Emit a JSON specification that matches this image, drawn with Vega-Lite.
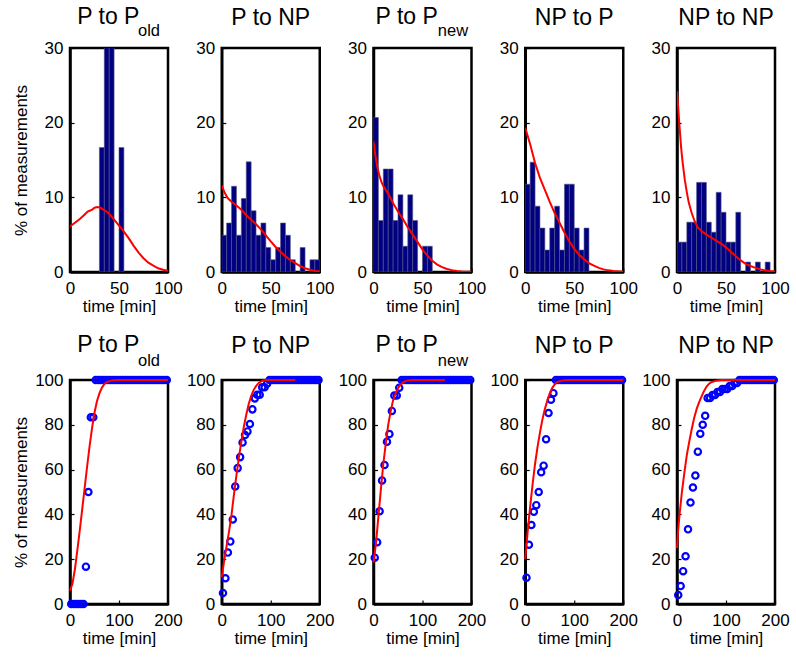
{
"$schema": "https://vega.github.io/schema/vega-lite/v6.json",
"background": "white",
"padding": {"left": 10, "top": 4, "right": 10, "bottom": 5},
"config": {
  "font": "Liberation Sans",
  "view": {"stroke": "black", "strokeWidth": 2.5},
  "axis": {"domainColor": "black", "domainWidth": 2.5, "tickColor": "black", "tickWidth": 1.2, "tickSize": -4, "labelFontSize": 17, "labelColor": "black", "labelFont": "Liberation Sans", "titleFont": "Liberation Sans", "titleFontSize": 17, "titleFontWeight": "normal", "titleColor": "black", "grid": false, "labelOverlap": false, "labelFlush": false},
  "axisX": {"labelPadding": 12},
  "axisY": {"labelPadding": 11},
  "text": {"font": "Liberation Sans", "fontSize": 16.5, "color": "black"},
  "title": {"fontSize": 23, "font": "Liberation Sans", "fontWeight": "normal", "color": "black", "anchor": "middle", "offset": 9}
},
"datasets": {
"subs": [{"p":1,"sub":"old"},{"p":3,"sub":"new"}],
"bars": [
{"p":1,"x0":30,"x1":35,"y":16.67},{"p":1,"x0":35,"x1":40,"y":33.33},{"p":1,"x0":40,"x1":45,"y":33.33},{"p":1,"x0":50,"x1":55,"y":16.67},
{"p":2,"x0":0,"x1":5,"y":4.92},{"p":2,"x0":5,"x1":10,"y":6.56},{"p":2,"x0":10,"x1":15,"y":11.48},{"p":2,"x0":15,"x1":20,"y":4.92},{"p":2,"x0":20,"x1":25,"y":9.84},{"p":2,"x0":25,"x1":30,"y":14.75},{"p":2,"x0":30,"x1":35,"y":8.2},{"p":2,"x0":35,"x1":40,"y":4.92},{"p":2,"x0":40,"x1":45,"y":6.56},{"p":2,"x0":45,"x1":50,"y":3.28},{"p":2,"x0":50,"x1":55,"y":1.64},{"p":2,"x0":55,"x1":60,"y":3.28},{"p":2,"x0":60,"x1":65,"y":6.56},{"p":2,"x0":65,"x1":70,"y":4.92},{"p":2,"x0":70,"x1":75,"y":1.64},{"p":2,"x0":80,"x1":85,"y":3.28},{"p":2,"x0":90,"x1":95,"y":1.64},{"p":2,"x0":95,"x1":100,"y":1.64},
{"p":3,"x0":0,"x1":5,"y":20.69},{"p":3,"x0":5,"x1":10,"y":6.9},{"p":3,"x0":10,"x1":15,"y":13.79},{"p":3,"x0":15,"x1":20,"y":13.79},{"p":3,"x0":20,"x1":25,"y":6.9},{"p":3,"x0":25,"x1":30,"y":10.34},{"p":3,"x0":30,"x1":35,"y":3.45},{"p":3,"x0":35,"x1":40,"y":10.34},{"p":3,"x0":40,"x1":45,"y":6.9},{"p":3,"x0":50,"x1":55,"y":3.45},{"p":3,"x0":55,"x1":60,"y":3.45},
{"p":4,"x0":0,"x1":5,"y":11.76},{"p":4,"x0":5,"x1":10,"y":14.71},{"p":4,"x0":10,"x1":15,"y":8.82},{"p":4,"x0":15,"x1":20,"y":5.88},{"p":4,"x0":20,"x1":25,"y":2.94},{"p":4,"x0":25,"x1":30,"y":5.88},{"p":4,"x0":30,"x1":35,"y":8.82},{"p":4,"x0":35,"x1":40,"y":2.94},{"p":4,"x0":40,"x1":45,"y":11.76},{"p":4,"x0":45,"x1":50,"y":11.76},{"p":4,"x0":50,"x1":55,"y":5.88},{"p":4,"x0":55,"x1":60,"y":2.94},{"p":4,"x0":60,"x1":65,"y":5.88},
{"p":5,"x0":0,"x1":5,"y":4.0},{"p":5,"x0":5,"x1":10,"y":4.0},{"p":5,"x0":10,"x1":15,"y":6.67},{"p":5,"x0":15,"x1":20,"y":6.67},{"p":5,"x0":20,"x1":25,"y":12.0},{"p":5,"x0":25,"x1":30,"y":12.0},{"p":5,"x0":30,"x1":35,"y":6.67},{"p":5,"x0":35,"x1":40,"y":5.33},{"p":5,"x0":40,"x1":45,"y":10.67},{"p":5,"x0":45,"x1":50,"y":8.0},{"p":5,"x0":50,"x1":55,"y":4.0},{"p":5,"x0":55,"x1":60,"y":4.0},{"p":5,"x0":60,"x1":65,"y":8.0},{"p":5,"x0":70,"x1":75,"y":1.33},{"p":5,"x0":80,"x1":85,"y":1.33},{"p":5,"x0":90,"x1":95,"y":1.33}
],
"pdf": [
{"p":1,"x":0,"y":6.1},{"p":1,"x":5,"y":6.6},{"p":1,"x":10,"y":7.1},{"p":1,"x":15,"y":7.7},{"p":1,"x":18,"y":8.1},{"p":1,"x":20,"y":8.2},{"p":1,"x":23,"y":8.4},{"p":1,"x":25,"y":8.6},{"p":1,"x":28,"y":8.7},{"p":1,"x":31,"y":8.6},{"p":1,"x":35,"y":8.3},{"p":1,"x":40,"y":7.8},{"p":1,"x":45,"y":7.0},{"p":1,"x":50,"y":6.2},{"p":1,"x":55,"y":5.4},{"p":1,"x":60,"y":4.5},{"p":1,"x":65,"y":3.5},{"p":1,"x":70,"y":2.6},{"p":1,"x":75,"y":1.85},{"p":1,"x":80,"y":1.25},{"p":1,"x":85,"y":0.85},{"p":1,"x":90,"y":0.5},{"p":1,"x":95,"y":0.3},{"p":1,"x":100,"y":0.15},
{"p":2,"x":0,"y":11.6},{"p":2,"x":3,"y":10.6},{"p":2,"x":6,"y":9.9},{"p":2,"x":10,"y":9.4},{"p":2,"x":15,"y":8.9},{"p":2,"x":20,"y":8.35},{"p":2,"x":25,"y":7.6},{"p":2,"x":30,"y":7.0},{"p":2,"x":35,"y":6.4},{"p":2,"x":40,"y":5.7},{"p":2,"x":45,"y":4.9},{"p":2,"x":50,"y":4.1},{"p":2,"x":55,"y":3.35},{"p":2,"x":60,"y":2.7},{"p":2,"x":65,"y":2.1},{"p":2,"x":70,"y":1.6},{"p":2,"x":75,"y":1.2},{"p":2,"x":80,"y":0.8},{"p":2,"x":85,"y":0.5},{"p":2,"x":90,"y":0.3},{"p":2,"x":95,"y":0.15},{"p":2,"x":100,"y":0.1},
{"p":3,"x":0,"y":17.5},{"p":3,"x":2,"y":15.5},{"p":3,"x":4,"y":14.0},{"p":3,"x":6,"y":12.9},{"p":3,"x":8,"y":12.1},{"p":3,"x":10,"y":11.5},{"p":3,"x":15,"y":10.5},{"p":3,"x":20,"y":9.2},{"p":3,"x":25,"y":8.1},{"p":3,"x":30,"y":7.1},{"p":3,"x":35,"y":6.0},{"p":3,"x":40,"y":5.0},{"p":3,"x":45,"y":4.0},{"p":3,"x":50,"y":3.0},{"p":3,"x":55,"y":2.2},{"p":3,"x":60,"y":1.5},{"p":3,"x":65,"y":1.0},{"p":3,"x":70,"y":0.65},{"p":3,"x":75,"y":0.4},{"p":3,"x":80,"y":0.25},{"p":3,"x":85,"y":0.15},{"p":3,"x":90,"y":0.08},{"p":3,"x":100,"y":0.02},
{"p":4,"x":0,"y":19.3},{"p":4,"x":5,"y":17.1},{"p":4,"x":10,"y":14.6},{"p":4,"x":15,"y":12.6},{"p":4,"x":20,"y":11.0},{"p":4,"x":25,"y":9.4},{"p":4,"x":30,"y":7.9},{"p":4,"x":35,"y":6.6},{"p":4,"x":40,"y":5.3},{"p":4,"x":45,"y":4.1},{"p":4,"x":50,"y":3.1},{"p":4,"x":55,"y":2.3},{"p":4,"x":60,"y":1.7},{"p":4,"x":65,"y":1.2},{"p":4,"x":70,"y":0.85},{"p":4,"x":75,"y":0.55},{"p":4,"x":80,"y":0.35},{"p":4,"x":85,"y":0.22},{"p":4,"x":90,"y":0.15},{"p":4,"x":100,"y":0.05},
{"p":5,"x":0,"y":24.2},{"p":5,"x":1,"y":22.5},{"p":5,"x":2,"y":20.5},{"p":5,"x":3,"y":18.8},{"p":5,"x":4,"y":17.0},{"p":5,"x":5,"y":15.6},{"p":5,"x":6,"y":14.4},{"p":5,"x":8,"y":12.3},{"p":5,"x":10,"y":10.7},{"p":5,"x":12,"y":9.3},{"p":5,"x":15,"y":7.9},{"p":5,"x":18,"y":6.8},{"p":5,"x":21,"y":6.0},{"p":5,"x":25,"y":5.5},{"p":5,"x":30,"y":5.0},{"p":5,"x":35,"y":4.6},{"p":5,"x":40,"y":4.2},{"p":5,"x":45,"y":3.8},{"p":5,"x":50,"y":3.3},{"p":5,"x":55,"y":2.7},{"p":5,"x":60,"y":2.1},{"p":5,"x":65,"y":1.55},{"p":5,"x":70,"y":1.1},{"p":5,"x":75,"y":0.8},{"p":5,"x":80,"y":0.55},{"p":5,"x":85,"y":0.35},{"p":5,"x":90,"y":0.22},{"p":5,"x":95,"y":0.13},{"p":5,"x":100,"y":0.08}
],
"cdf": [
{"p":1,"x":0,"y":6},{"p":1,"x":5,"y":9},{"p":1,"x":10,"y":15.5},{"p":1,"x":15,"y":24},{"p":1,"x":20,"y":33},{"p":1,"x":25,"y":42.5},{"p":1,"x":30,"y":52},{"p":1,"x":35,"y":61.5},{"p":1,"x":40,"y":70.5},{"p":1,"x":45,"y":78.5},{"p":1,"x":50,"y":85.5},{"p":1,"x":55,"y":90.5},{"p":1,"x":60,"y":94},{"p":1,"x":65,"y":96.5},{"p":1,"x":70,"y":98.2},{"p":1,"x":75,"y":99},{"p":1,"x":80,"y":99.5},{"p":1,"x":90,"y":99.9},{"p":1,"x":100,"y":100},{"p":1,"x":150,"y":100},{"p":1,"x":200,"y":100},
{"p":2,"x":0,"y":12},{"p":2,"x":5,"y":19.5},{"p":2,"x":10,"y":26},{"p":2,"x":15,"y":32.5},{"p":2,"x":20,"y":40},{"p":2,"x":25,"y":49},{"p":2,"x":30,"y":57.5},{"p":2,"x":35,"y":65.5},{"p":2,"x":40,"y":72.5},{"p":2,"x":45,"y":79},{"p":2,"x":50,"y":84.5},{"p":2,"x":55,"y":89.3},{"p":2,"x":60,"y":92.8},{"p":2,"x":65,"y":95.5},{"p":2,"x":70,"y":97.3},{"p":2,"x":75,"y":98.6},{"p":2,"x":80,"y":99.4},{"p":2,"x":85,"y":99.8},{"p":2,"x":90,"y":100},{"p":2,"x":150,"y":100},
{"p":3,"x":0,"y":18.6},{"p":3,"x":5,"y":27},{"p":3,"x":10,"y":39},{"p":3,"x":15,"y":51},{"p":3,"x":20,"y":62.5},{"p":3,"x":25,"y":71.5},{"p":3,"x":30,"y":80},{"p":3,"x":35,"y":86},{"p":3,"x":40,"y":91},{"p":3,"x":45,"y":94},{"p":3,"x":50,"y":96.3},{"p":3,"x":55,"y":97.9},{"p":3,"x":60,"y":98.9},{"p":3,"x":65,"y":99.5},{"p":3,"x":70,"y":99.8},{"p":3,"x":80,"y":100},{"p":3,"x":146,"y":100},
{"p":4,"x":0,"y":20},{"p":4,"x":5,"y":32.5},{"p":4,"x":10,"y":43.5},{"p":4,"x":15,"y":53.5},{"p":4,"x":20,"y":62.5},{"p":4,"x":25,"y":70},{"p":4,"x":30,"y":76.5},{"p":4,"x":35,"y":82.3},{"p":4,"x":40,"y":87},{"p":4,"x":45,"y":90.8},{"p":4,"x":50,"y":94},{"p":4,"x":55,"y":96.4},{"p":4,"x":60,"y":98},{"p":4,"x":65,"y":99},{"p":4,"x":70,"y":99.5},{"p":4,"x":80,"y":99.9},{"p":4,"x":90,"y":100},{"p":4,"x":200,"y":100},
{"p":5,"x":0,"y":25},{"p":5,"x":2,"y":32},{"p":5,"x":5,"y":39.5},{"p":5,"x":10,"y":50},{"p":5,"x":15,"y":58.5},{"p":5,"x":20,"y":66.5},{"p":5,"x":25,"y":72.5},{"p":5,"x":30,"y":78},{"p":5,"x":35,"y":83},{"p":5,"x":40,"y":87},{"p":5,"x":45,"y":90},{"p":5,"x":50,"y":92.6},{"p":5,"x":55,"y":95},{"p":5,"x":60,"y":97},{"p":5,"x":65,"y":98.2},{"p":5,"x":70,"y":99},{"p":5,"x":80,"y":99.7},{"p":5,"x":90,"y":100},{"p":5,"x":200,"y":100}
],
"pts": [
{"p":1,"x":2.5,"y":0},{"p":1,"x":7.5,"y":0},{"p":1,"x":12.5,"y":0},{"p":1,"x":17.5,"y":0},{"p":1,"x":22.5,"y":0},{"p":1,"x":27.5,"y":0},{"p":1,"x":32.5,"y":16.67},{"p":1,"x":37.5,"y":50},{"p":1,"x":42.5,"y":83.33},{"p":1,"x":47.5,"y":83.33},{"p":1,"x":52.5,"y":100},{"p":1,"x":57.5,"y":100},{"p":1,"x":62.5,"y":100},{"p":1,"x":67.5,"y":100},{"p":1,"x":72.5,"y":100},{"p":1,"x":77.5,"y":100},{"p":1,"x":82.5,"y":100},{"p":1,"x":87.5,"y":100},{"p":1,"x":92.5,"y":100},{"p":1,"x":97.5,"y":100},{"p":1,"x":102.5,"y":100},{"p":1,"x":107.5,"y":100},{"p":1,"x":112.5,"y":100},{"p":1,"x":117.5,"y":100},{"p":1,"x":122.5,"y":100},{"p":1,"x":127.5,"y":100},{"p":1,"x":132.5,"y":100},{"p":1,"x":137.5,"y":100},{"p":1,"x":142.5,"y":100},{"p":1,"x":147.5,"y":100},{"p":1,"x":152.5,"y":100},{"p":1,"x":157.5,"y":100},{"p":1,"x":162.5,"y":100},{"p":1,"x":167.5,"y":100},{"p":1,"x":172.5,"y":100},{"p":1,"x":177.5,"y":100},{"p":1,"x":182.5,"y":100},{"p":1,"x":187.5,"y":100},{"p":1,"x":192.5,"y":100},{"p":1,"x":197.5,"y":100},
{"p":2,"x":2.5,"y":4.92},{"p":2,"x":7.5,"y":11.48},{"p":2,"x":12.5,"y":22.95},{"p":2,"x":17.5,"y":27.87},{"p":2,"x":22.5,"y":37.7},{"p":2,"x":27.5,"y":52.46},{"p":2,"x":32.5,"y":60.66},{"p":2,"x":37.5,"y":65.57},{"p":2,"x":42.5,"y":72.13},{"p":2,"x":47.5,"y":75.41},{"p":2,"x":52.5,"y":77.05},{"p":2,"x":57.5,"y":80.33},{"p":2,"x":62.5,"y":86.89},{"p":2,"x":67.5,"y":91.8},{"p":2,"x":72.5,"y":93.44},{"p":2,"x":77.5,"y":93.44},{"p":2,"x":82.5,"y":96.72},{"p":2,"x":87.5,"y":96.72},{"p":2,"x":92.5,"y":98.36},{"p":2,"x":97.5,"y":100},{"p":2,"x":102.5,"y":100},{"p":2,"x":107.5,"y":100},{"p":2,"x":112.5,"y":100},{"p":2,"x":117.5,"y":100},{"p":2,"x":122.5,"y":100},{"p":2,"x":127.5,"y":100},{"p":2,"x":132.5,"y":100},{"p":2,"x":137.5,"y":100},{"p":2,"x":142.5,"y":100},{"p":2,"x":147.5,"y":100},{"p":2,"x":152.5,"y":100},{"p":2,"x":157.5,"y":100},{"p":2,"x":162.5,"y":100},{"p":2,"x":167.5,"y":100},{"p":2,"x":172.5,"y":100},{"p":2,"x":177.5,"y":100},{"p":2,"x":182.5,"y":100},{"p":2,"x":187.5,"y":100},{"p":2,"x":192.5,"y":100},{"p":2,"x":197.5,"y":100},
{"p":3,"x":2.5,"y":20.69},{"p":3,"x":7.5,"y":27.59},{"p":3,"x":12.5,"y":41.38},{"p":3,"x":17.5,"y":55.17},{"p":3,"x":22.5,"y":62.07},{"p":3,"x":27.5,"y":72.41},{"p":3,"x":32.5,"y":75.86},{"p":3,"x":37.5,"y":86.21},{"p":3,"x":42.5,"y":93.1},{"p":3,"x":47.5,"y":93.1},{"p":3,"x":52.5,"y":96.55},{"p":3,"x":57.5,"y":100},{"p":3,"x":62.5,"y":100},{"p":3,"x":67.5,"y":100},{"p":3,"x":72.5,"y":100},{"p":3,"x":77.5,"y":100},{"p":3,"x":82.5,"y":100},{"p":3,"x":87.5,"y":100},{"p":3,"x":92.5,"y":100},{"p":3,"x":97.5,"y":100},{"p":3,"x":102.5,"y":100},{"p":3,"x":107.5,"y":100},{"p":3,"x":112.5,"y":100},{"p":3,"x":117.5,"y":100},{"p":3,"x":122.5,"y":100},{"p":3,"x":127.5,"y":100},{"p":3,"x":132.5,"y":100},{"p":3,"x":137.5,"y":100},{"p":3,"x":142.5,"y":100},{"p":3,"x":147.5,"y":100},{"p":3,"x":152.5,"y":100},{"p":3,"x":157.5,"y":100},{"p":3,"x":162.5,"y":100},{"p":3,"x":167.5,"y":100},{"p":3,"x":172.5,"y":100},{"p":3,"x":177.5,"y":100},{"p":3,"x":182.5,"y":100},{"p":3,"x":187.5,"y":100},{"p":3,"x":192.5,"y":100},{"p":3,"x":197.5,"y":100},
{"p":4,"x":2.5,"y":11.76},{"p":4,"x":7.5,"y":26.47},{"p":4,"x":12.5,"y":35.29},{"p":4,"x":17.5,"y":41.18},{"p":4,"x":22.5,"y":44.12},{"p":4,"x":27.5,"y":50.0},{"p":4,"x":32.5,"y":58.82},{"p":4,"x":37.5,"y":61.76},{"p":4,"x":42.5,"y":73.53},{"p":4,"x":47.5,"y":85.29},{"p":4,"x":52.5,"y":91.18},{"p":4,"x":57.5,"y":94.12},{"p":4,"x":62.5,"y":100},{"p":4,"x":67.5,"y":100},{"p":4,"x":72.5,"y":100},{"p":4,"x":77.5,"y":100},{"p":4,"x":82.5,"y":100},{"p":4,"x":87.5,"y":100},{"p":4,"x":92.5,"y":100},{"p":4,"x":97.5,"y":100},{"p":4,"x":102.5,"y":100},{"p":4,"x":107.5,"y":100},{"p":4,"x":112.5,"y":100},{"p":4,"x":117.5,"y":100},{"p":4,"x":122.5,"y":100},{"p":4,"x":127.5,"y":100},{"p":4,"x":132.5,"y":100},{"p":4,"x":137.5,"y":100},{"p":4,"x":142.5,"y":100},{"p":4,"x":147.5,"y":100},{"p":4,"x":152.5,"y":100},{"p":4,"x":157.5,"y":100},{"p":4,"x":162.5,"y":100},{"p":4,"x":167.5,"y":100},{"p":4,"x":172.5,"y":100},{"p":4,"x":177.5,"y":100},{"p":4,"x":182.5,"y":100},{"p":4,"x":187.5,"y":100},{"p":4,"x":192.5,"y":100},{"p":4,"x":197.5,"y":100},
{"p":5,"x":2.5,"y":4.0},{"p":5,"x":7.5,"y":8.0},{"p":5,"x":12.5,"y":14.67},{"p":5,"x":17.5,"y":21.33},{"p":5,"x":22.5,"y":33.33},{"p":5,"x":27.5,"y":45.33},{"p":5,"x":32.5,"y":52.0},{"p":5,"x":37.5,"y":57.33},{"p":5,"x":42.5,"y":68.0},{"p":5,"x":47.5,"y":76.0},{"p":5,"x":52.5,"y":80.0},{"p":5,"x":57.5,"y":84.0},{"p":5,"x":62.5,"y":92.0},{"p":5,"x":67.5,"y":92.0},{"p":5,"x":72.5,"y":93.33},{"p":5,"x":77.5,"y":93.33},{"p":5,"x":82.5,"y":94.67},{"p":5,"x":87.5,"y":94.67},{"p":5,"x":92.5,"y":96.0},{"p":5,"x":97.5,"y":96.0},{"p":5,"x":102.5,"y":96.0},{"p":5,"x":107.5,"y":97.33},{"p":5,"x":112.5,"y":97.33},{"p":5,"x":117.5,"y":98.67},{"p":5,"x":122.5,"y":98.67},{"p":5,"x":127.5,"y":100},{"p":5,"x":132.5,"y":100},{"p":5,"x":137.5,"y":100},{"p":5,"x":142.5,"y":100},{"p":5,"x":147.5,"y":100},{"p":5,"x":152.5,"y":100},{"p":5,"x":157.5,"y":100},{"p":5,"x":162.5,"y":100},{"p":5,"x":167.5,"y":100},{"p":5,"x":172.5,"y":100},{"p":5,"x":177.5,"y":100},{"p":5,"x":182.5,"y":100},{"p":5,"x":187.5,"y":100},{"p":5,"x":192.5,"y":100},{"p":5,"x":197.5,"y":100}
]
},
"columns": 5,
"bounds": "flush",
"spacing": {"row": 108, "column": 53.75},
"concat": [
{"width": 98, "height": 224,
 "title": {"text": "P to P", "dx": -10.7, "offset": -6.6},
 "layer": [
  {"data": {"name": "bars"}, "transform": [{"filter": "datum.p == 1"}], "mark": {"type": "rect", "clip": true, "fill": "#000080", "stroke": "#55558a", "strokeWidth": 0.6},
   "encoding": {"x": {"field": "x0", "type": "quantitative", "scale": {"domain": [0, 100], "nice": false}, "axis": {"values": [0, 50, 100], "title": "time [min]", "titleY": 26}}, "x2": {"field": "x1"},
    "y": {"field": "y", "type": "quantitative", "scale": {"domain": [0, 30], "nice": false}, "axis": {"values": [0, 10, 20, 30], "title": "% of measurements", "titleX": -40}}, "y2": {"datum": 0}}},
  {"data": {"name": "pdf"}, "transform": [{"filter": "datum.p == 1"}], "mark": {"type": "line", "clip": true, "color": "#ff0000", "strokeWidth": 2},
   "encoding": {"x": {"field": "x", "type": "quantitative", "axis": {"values": [0, 50, 100], "title": "time [min]", "titleY": 26}}, "y": {"field": "y", "type": "quantitative", "axis": {"values": [0, 10, 20, 30], "title": "% of measurements", "titleX": -40}}}},
  {"data": {"name": "subs"}, "transform": [{"filter": "datum.p == 1"}], "mark": {"type": "text", "align": "left", "baseline": "alphabetic", "clip": false},
   "encoding": {"x": {"datum": 69.4, "type": "quantitative"}, "y": {"datum": 31.674, "type": "quantitative"}, "text": {"field": "sub"}}}
 ]},
{"width": 98, "height": 224,
 "title": {"text": "P to NP"},
 "layer": [
  {"data": {"name": "bars"}, "transform": [{"filter": "datum.p == 2"}], "mark": {"type": "rect", "clip": true, "fill": "#000080", "stroke": "#55558a", "strokeWidth": 0.6},
   "encoding": {"x": {"field": "x0", "type": "quantitative", "scale": {"domain": [0, 100], "nice": false}, "axis": {"values": [0, 50, 100], "title": "time [min]", "titleY": 26}}, "x2": {"field": "x1"},
    "y": {"field": "y", "type": "quantitative", "scale": {"domain": [0, 30], "nice": false}, "axis": {"values": [0, 10, 20, 30], "title": null}}, "y2": {"datum": 0}}},
  {"data": {"name": "pdf"}, "transform": [{"filter": "datum.p == 2"}], "mark": {"type": "line", "clip": true, "color": "#ff0000", "strokeWidth": 2},
   "encoding": {"x": {"field": "x", "type": "quantitative", "axis": {"values": [0, 50, 100], "title": "time [min]", "titleY": 26}}, "y": {"field": "y", "type": "quantitative", "axis": {"values": [0, 10, 20, 30], "title": null}}}}
 ]},
{"width": 98, "height": 224,
 "title": {"text": "P to P", "dx": -15.8, "offset": -6.6},
 "layer": [
  {"data": {"name": "bars"}, "transform": [{"filter": "datum.p == 3"}], "mark": {"type": "rect", "clip": true, "fill": "#000080", "stroke": "#55558a", "strokeWidth": 0.6},
   "encoding": {"x": {"field": "x0", "type": "quantitative", "scale": {"domain": [0, 100], "nice": false}, "axis": {"values": [0, 50, 100], "title": "time [min]", "titleY": 26}}, "x2": {"field": "x1"},
    "y": {"field": "y", "type": "quantitative", "scale": {"domain": [0, 30], "nice": false}, "axis": {"values": [0, 10, 20, 30], "title": null}}, "y2": {"datum": 0}}},
  {"data": {"name": "pdf"}, "transform": [{"filter": "datum.p == 3"}], "mark": {"type": "line", "clip": true, "color": "#ff0000", "strokeWidth": 2},
   "encoding": {"x": {"field": "x", "type": "quantitative", "axis": {"values": [0, 50, 100], "title": "time [min]", "titleY": 26}}, "y": {"field": "y", "type": "quantitative", "axis": {"values": [0, 10, 20, 30], "title": null}}}},
  {"data": {"name": "subs"}, "transform": [{"filter": "datum.p == 3"}], "mark": {"type": "text", "align": "left", "baseline": "alphabetic", "clip": false},
   "encoding": {"x": {"datum": 65.6, "type": "quantitative"}, "y": {"datum": 31.674, "type": "quantitative"}, "text": {"field": "sub"}}}
 ]},
{"width": 98, "height": 224,
 "title": {"text": "NP to P"},
 "layer": [
  {"data": {"name": "bars"}, "transform": [{"filter": "datum.p == 4"}], "mark": {"type": "rect", "clip": true, "fill": "#000080", "stroke": "#55558a", "strokeWidth": 0.6},
   "encoding": {"x": {"field": "x0", "type": "quantitative", "scale": {"domain": [0, 100], "nice": false}, "axis": {"values": [0, 50, 100], "title": "time [min]", "titleY": 26}}, "x2": {"field": "x1"},
    "y": {"field": "y", "type": "quantitative", "scale": {"domain": [0, 30], "nice": false}, "axis": {"values": [0, 10, 20, 30], "title": null}}, "y2": {"datum": 0}}},
  {"data": {"name": "pdf"}, "transform": [{"filter": "datum.p == 4"}], "mark": {"type": "line", "clip": true, "color": "#ff0000", "strokeWidth": 2},
   "encoding": {"x": {"field": "x", "type": "quantitative", "axis": {"values": [0, 50, 100], "title": "time [min]", "titleY": 26}}, "y": {"field": "y", "type": "quantitative", "axis": {"values": [0, 10, 20, 30], "title": null}}}}
 ]},
{"width": 98, "height": 224,
 "title": {"text": "NP to NP"},
 "layer": [
  {"data": {"name": "bars"}, "transform": [{"filter": "datum.p == 5"}], "mark": {"type": "rect", "clip": true, "fill": "#000080", "stroke": "#55558a", "strokeWidth": 0.6},
   "encoding": {"x": {"field": "x0", "type": "quantitative", "scale": {"domain": [0, 100], "nice": false}, "axis": {"values": [0, 50, 100], "title": "time [min]", "titleY": 26}}, "x2": {"field": "x1"},
    "y": {"field": "y", "type": "quantitative", "scale": {"domain": [0, 30], "nice": false}, "axis": {"values": [0, 10, 20, 30], "title": null}}, "y2": {"datum": 0}}},
  {"data": {"name": "pdf"}, "transform": [{"filter": "datum.p == 5"}], "mark": {"type": "line", "clip": true, "color": "#ff0000", "strokeWidth": 2},
   "encoding": {"x": {"field": "x", "type": "quantitative", "axis": {"values": [0, 50, 100], "title": "time [min]", "titleY": 26}}, "y": {"field": "y", "type": "quantitative", "axis": {"values": [0, 10, 20, 30], "title": null}}}}
 ]},
{"width": 98, "height": 224,
 "title": {"text": "P to P", "dx": -10.7, "offset": -4.1},
 "layer": [
  {"data": {"name": "pts"}, "transform": [{"filter": "datum.p == 1"}], "mark": {"type": "point", "shape": "circle", "filled": false, "color": "#0000ff", "strokeWidth": 2.2, "size": 40, "opacity": 1},
   "encoding": {"x": {"field": "x", "type": "quantitative", "scale": {"domain": [0, 200], "nice": false}, "axis": {"values": [0, 100, 200], "title": "time [min]", "titleY": 26}},
    "y": {"field": "y", "type": "quantitative", "scale": {"domain": [0, 100], "nice": false}, "axis": {"values": [0, 20, 40, 60, 80, 100], "title": "% of measurements", "titleX": -40}}}},
  {"data": {"name": "cdf"}, "transform": [{"filter": "datum.p == 1"}], "mark": {"type": "line", "color": "#ff0000", "strokeWidth": 2},
   "encoding": {"x": {"field": "x", "type": "quantitative", "axis": {"values": [0, 100, 200], "title": "time [min]", "titleY": 26}}, "y": {"field": "y", "type": "quantitative", "axis": {"values": [0, 20, 40, 60, 80, 100], "title": "% of measurements", "titleX": -40}}}},
  {"data": {"name": "subs"}, "transform": [{"filter": "datum.p == 1"}], "mark": {"type": "text", "align": "left", "baseline": "alphabetic", "clip": false},
   "encoding": {"x": {"datum": 138.8, "type": "quantitative"}, "y": {"datum": 106.47, "type": "quantitative"}, "text": {"field": "sub"}}}
 ]},
{"width": 98, "height": 224,
 "title": {"text": "P to NP", "offset": 13.4},
 "layer": [
  {"data": {"name": "pts"}, "transform": [{"filter": "datum.p == 2"}], "mark": {"type": "point", "shape": "circle", "filled": false, "color": "#0000ff", "strokeWidth": 2.2, "size": 40, "opacity": 1},
   "encoding": {"x": {"field": "x", "type": "quantitative", "scale": {"domain": [0, 200], "nice": false}, "axis": {"values": [0, 100, 200], "title": "time [min]", "titleY": 26}},
    "y": {"field": "y", "type": "quantitative", "scale": {"domain": [0, 100], "nice": false}, "axis": {"values": [0, 20, 40, 60, 80, 100], "title": null}}}},
  {"data": {"name": "cdf"}, "transform": [{"filter": "datum.p == 2"}], "mark": {"type": "line", "color": "#ff0000", "strokeWidth": 2},
   "encoding": {"x": {"field": "x", "type": "quantitative", "axis": {"values": [0, 100, 200], "title": "time [min]", "titleY": 26}}, "y": {"field": "y", "type": "quantitative", "axis": {"values": [0, 20, 40, 60, 80, 100], "title": null}}}}
 ]},
{"width": 98, "height": 224,
 "title": {"text": "P to P", "dx": -15.8, "offset": -4.1},
 "layer": [
  {"data": {"name": "pts"}, "transform": [{"filter": "datum.p == 3"}], "mark": {"type": "point", "shape": "circle", "filled": false, "color": "#0000ff", "strokeWidth": 2.2, "size": 40, "opacity": 1},
   "encoding": {"x": {"field": "x", "type": "quantitative", "scale": {"domain": [0, 200], "nice": false}, "axis": {"values": [0, 100, 200], "title": "time [min]", "titleY": 26}},
    "y": {"field": "y", "type": "quantitative", "scale": {"domain": [0, 100], "nice": false}, "axis": {"values": [0, 20, 40, 60, 80, 100], "title": null}}}},
  {"data": {"name": "cdf"}, "transform": [{"filter": "datum.p == 3"}], "mark": {"type": "line", "color": "#ff0000", "strokeWidth": 2},
   "encoding": {"x": {"field": "x", "type": "quantitative", "axis": {"values": [0, 100, 200], "title": "time [min]", "titleY": 26}}, "y": {"field": "y", "type": "quantitative", "axis": {"values": [0, 20, 40, 60, 80, 100], "title": null}}}},
  {"data": {"name": "subs"}, "transform": [{"filter": "datum.p == 3"}], "mark": {"type": "text", "align": "left", "baseline": "alphabetic", "clip": false},
   "encoding": {"x": {"datum": 131.2, "type": "quantitative"}, "y": {"datum": 106.47, "type": "quantitative"}, "text": {"field": "sub"}}}
 ]},
{"width": 98, "height": 224,
 "title": {"text": "NP to P", "offset": 13.4},
 "layer": [
  {"data": {"name": "pts"}, "transform": [{"filter": "datum.p == 4"}], "mark": {"type": "point", "shape": "circle", "filled": false, "color": "#0000ff", "strokeWidth": 2.2, "size": 40, "opacity": 1},
   "encoding": {"x": {"field": "x", "type": "quantitative", "scale": {"domain": [0, 200], "nice": false}, "axis": {"values": [0, 100, 200], "title": "time [min]", "titleY": 26}},
    "y": {"field": "y", "type": "quantitative", "scale": {"domain": [0, 100], "nice": false}, "axis": {"values": [0, 20, 40, 60, 80, 100], "title": null}}}},
  {"data": {"name": "cdf"}, "transform": [{"filter": "datum.p == 4"}], "mark": {"type": "line", "color": "#ff0000", "strokeWidth": 2},
   "encoding": {"x": {"field": "x", "type": "quantitative", "axis": {"values": [0, 100, 200], "title": "time [min]", "titleY": 26}}, "y": {"field": "y", "type": "quantitative", "axis": {"values": [0, 20, 40, 60, 80, 100], "title": null}}}}
 ]},
{"width": 98, "height": 224,
 "title": {"text": "NP to NP", "offset": 13.4},
 "layer": [
  {"data": {"name": "pts"}, "transform": [{"filter": "datum.p == 5"}], "mark": {"type": "point", "shape": "circle", "filled": false, "color": "#0000ff", "strokeWidth": 2.2, "size": 40, "opacity": 1},
   "encoding": {"x": {"field": "x", "type": "quantitative", "scale": {"domain": [0, 200], "nice": false}, "axis": {"values": [0, 100, 200], "title": "time [min]", "titleY": 26}},
    "y": {"field": "y", "type": "quantitative", "scale": {"domain": [0, 100], "nice": false}, "axis": {"values": [0, 20, 40, 60, 80, 100], "title": null}}}},
  {"data": {"name": "cdf"}, "transform": [{"filter": "datum.p == 5"}], "mark": {"type": "line", "color": "#ff0000", "strokeWidth": 2},
   "encoding": {"x": {"field": "x", "type": "quantitative", "axis": {"values": [0, 100, 200], "title": "time [min]", "titleY": 26}}, "y": {"field": "y", "type": "quantitative", "axis": {"values": [0, 20, 40, 60, 80, 100], "title": null}}}}
 ]}
]
}
